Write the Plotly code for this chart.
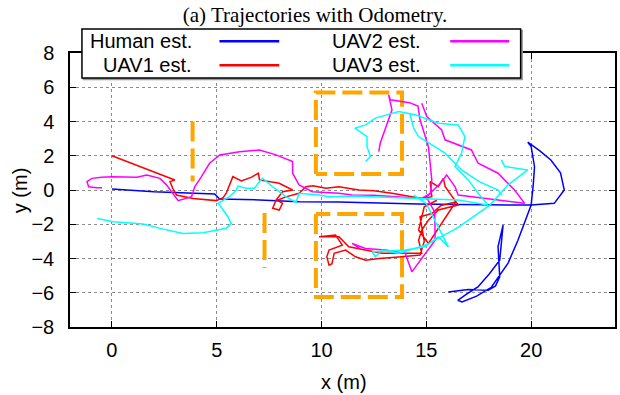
import plotly.graph_objects as go

# ---------------- data ----------------
human_x = [0, 2, 4.9, 5.14, 7.04, 8.94, 10.83, 12.5, 14.63, 16.5, 18.5, 20, 21.1, 21.58, 21.4, 20.94, 20.4,
           19.84, 20.0, 20.16, 20.1, 20.0, 19.37, 18.9, 18.1, 17.4, 16.7, 16.5, 16.9, 17.46, 18.0, 18.5,
           18.66, 18.55, 18.42, 18.5, 18.3, 17.95, 17.0, 16.05]
human_y = [0.06, -0.1, -0.23, -0.53, -0.58, -0.68, -0.7, -0.76, -0.82, -0.85, -0.87, -0.88, -0.78, 0, 1.0,
           1.75, 2.3, 2.79, 2.53, 1.36, 0.3, -0.88, -2.93, -4.27, -5.68, -6.2, -6.53, -6.44, -6.1, -5.66,
           -4.9, -4.1, -2.05, -2.7, -3.3, -5.07, -5.6, -5.85, -5.81, -5.95]

uav1_x = [0, 1.5, 2.77, 3.0, 2.77, 2.9, 3.08, 3.87, 4.98, 5.3, 5.45, 5.77, 6.17, 6.64, 6.99, 7.04, 7.98,
          8.62, 8.14, 7.83, 7.67, 7.98, 8.14, 7.9, 8.3, 8.93, 9.25, 9.6, 10.2, 10.83, 11.78, 12.5, 13.36,
          14.2, 14.78, 15.26, 15.18, 15.57, 15.81, 15.9, 16.37, 16.52, 15.57, 15.1, 14.78, 14.63, 14.78,
          14.47, 12.88, 11.3, 10.83, 9.88, 10.67, 10.99, 10.36, 10.25, 10.36, 10.5, 10.6, 11.15, 11.62,
          12.1, 12.73, 13.83, 14.7, 14.9, 14.7, 15.26, 15.7, 16.4, 15.73, 15.1, 14.63, 14.9, 15.5]
uav1_y = [2.0, 1.27, 0.68, 0.58, 0.49, 0.1, -0.29, -0.49, -0.62, -0.45, -0.2, 0.78, 0.53, 0.74, 0.98, 0.59,
          0.39, 0, -0.1, -0.59, -1.07, -1.17, -0.78, -0.6, -0.4, -0.19, 0.19, 0.25, 0.1, 0.19, 0, -0.05,
          -0.19, -0.35, -0.49, -0.39, 0.49, 0.19, 0.68, 0.2, -0.59, -0.88, -1.17, -1.76, -2.34, -2.93, -3.7,
          -3.7, -3.7, -3.32, -2.73, -2.73, -2.63, -3.22, -3.51, -3.9, -4.39, -4.3, -3.7, -3.51, -3.9, -4.1,
          -4.0, -3.9, -3.8, -3.0, -1.56, -1.37, -0.9, -0.7, -1.95, -3.12, -2.34, -0.98, -0.6]

uav2_x = [-0.47, -0.71, -1.11, -1.19, -0.95, -0.5, 0, 0.6, 1.19, 1.66, 2.29, 2.6, 2.92, 3.16, 3.8, 3.95,
          4.27, 4.66, 5.14, 6.09, 7.04, 7.83, 8.62, 8.62, 8.93, 9.56, 10.83, 11.46, 12.5, 13.68, 14.77,
          15.2, 15.26, 15.1, 14.7, 14.6, 14.2, 13.28, 13.2, 13.36, 13.04, 12.8, 12.73, None,
          14.78, 15.02, 15.73, 15.89, 17.15, 17.47, 18.42, 19.21, 19.69, 18.5, 17.63, 16.52, 16.37, 15.97,
          15.6, 15.0, 15.4, 15.42, 14.31, 13.99, 13.04, 12.1, 11.46, 11.8]
uav2_y = [0.13, 0.13, 0.19, 0.49, 0.68, 0.75, 0.78, 0.78, 0.74, 0.88, 0.68, 0.3, -0.19, -0.62, -0.39, 0.19,
          0.78, 1.56, 2.05, 2.24, 2.34, 2.05, 1.66, 0.98, 0.29, -0.1, -0.19, -0.29, -0.3, -0.39, -0.49,
          -0.2, 0.59, 2.53, 4.1, 4.9, 5.1, 5.27, 5.56, 4.68, 3.51, 2.73, 2.24, None,
          5.07, 4.29, 3.51, 2.93, 2.34, 1.56, 0.98, 0, -0.78, -0.6, -0.49, -0.29, 0.19, 0.88,
          0.3, -0.4, -1.3, -2.93, -4.78, -3.7, -3.51, -3.41, -3.12, -3.4]

uav3_x = [-0.71, -0.4, 0.08, 1.5, 2.29, 3.4, 4.35, 5.45, 5.69, 5.53, 5.38, 5.14, 5.06, 5.3, 5.61, 5.93,
          6.01, 6.4, 6.8, 7.04, 7.19, 7.67, 8.3, 8.78, 8.93, 9.88, 10.36, 11.5, 12.5, 13.5, 14.94, 16.52,
          17.94, 17.47, 17.0, 16.37, 16.68, 16.84, 16.52, 15.57, 14.47, 13.68, 12.57, 12.1, 11.59, 12.17,
          12.17, 12.33, 12.1, None,
          14.2, 14.4, 14.63, 15.89, 16.68, 17.5, 18.42, 18.6, None,
          18.58, 18.74, 19.84, 18.9, 18.03, 16.5, 15.0, 13.68, 12.88, 12.57, 12.41, 13.99, 14.94, 15.57,
          16.05, 15.57, 15.0, 14.4]
uav3_y = [-1.66, -1.75, -1.85, -1.99, -2.24, -2.54, -2.5, -2.24, -1.95, -1.56, -1.27, -0.88, -0.78, -0.59,
          -0.39, 0, 0.23, 0.1, 0.1, 0.49, 0.68, 0.19, -0.39, -0.72, -0.19, -0.29, -0.39, -0.35, -0.4, -0.45,
          -0.49, -0.59, -0.88, -0.19, 0.59, 1.37, 2.15, 3.12, 3.8, 3.9, 4.39, 4.58, 4.2, 3.8, 3.61, 3.12,
          2.53, 1.95, 1.66, None,
          4.5, 3.6, 3.12, 2.15, 1.17, 0.5, 0, -0.3, None,
          1.76, 1.37, 1.17, 0.3, -0.88, -2.2, -3.2, -3.7, -3.51, -3.9, -3.61, -3.51, -3.32, -2.73,
          -3.32, -2.15, -0.8, -0.3]

# obstacle outlines (orange dashed)
obst_x = [3.85, 3.85, None, 7.28, 7.28, None,
          9.73, 9.73, 13.84, 13.84, 9.73, None,
          9.73, 9.73, 13.84, 13.84, 9.73]
obst_y = [4.0, 0.5, None, -1.35, -4.56, None,
          0.94, 5.70, 5.70, 0.94, 0.94, None,
          -1.40, -6.25, -6.25, -1.40, -1.40]

series_names = ["Human est.", "UAV1 est.", "UAV2 est.", "UAV3 est."]
series_colors = ["#0000ff", "#ff0000", "#ff00ff", "#00ffff"]
x_ticks = [0, 5, 10, 15, 20]
y_ticks = [-8, -6, -4, -2, 0, 2, 4, 6, 8]

# ---------------- figure ----------------
W, H = 620, 395
ML, MR, MT, MB = 70, 3, 53.3, 68.3
PW, PH = W - ML - MR, H - MT - MB

def px_x(p):
    return (p - ML) / PW

def px_y(p):
    return (H - MB - p) / PH

FONT = "Liberation Sans"

fig = go.Figure()
fig.add_trace(go.Scatter(x=obst_x, y=obst_y, mode="lines",
                         line=dict(color="#ffa500", width=4, dash="20px,7px"),
                         connectgaps=False, showlegend=False, hoverinfo="skip"))

for xs, ys, nm, col in zip([human_x, uav1_x, uav2_x, uav3_x],
                           [human_y, uav1_y, uav2_y, uav3_y],
                           series_names, series_colors):
    fig.add_trace(go.Scatter(x=xs, y=ys, mode="lines", name=nm,
                             line=dict(color=col, width=1.5),
                             connectgaps=False, showlegend=False))

axis_common = dict(showline=True, linecolor="black", linewidth=1.5, mirror="ticks",
                   ticks="inside", ticklen=6, tickcolor="black", tickwidth=1,
                   showgrid=True, gridcolor="#8c8c8c", griddash="dot", gridwidth=1,
                   zeroline=False, tickfont=dict(family=FONT, size=20, color="black"))

fig.update_xaxes(range=[-2, 24], tickvals=x_ticks, ticklabelstandoff=4, **axis_common)
fig.update_yaxes(range=[-8, 8], tickvals=y_ticks, ticklabelstandoff=10, **axis_common)

shapes = []
annotations = []
# legend box
lx0, lx1 = px_x(82), px_x(522.3)
ly0, ly1 = px_y(78.3), px_y(29.3)
shapes.append(dict(type="rect", xref="paper", yref="paper",
                   x0=lx0 + 1.5 / PW, x1=lx1 + 1.5 / PW, y0=ly0 - 1.5 / PH, y1=ly1 - 1.5 / PH,
                   line=dict(color="#999999", width=1.5), fillcolor="#999999", layer="above"))
shapes.append(dict(type="rect", xref="paper", yref="paper", x0=lx0, x1=lx1, y0=ly0, y1=ly1,
                   line=dict(color="black", width=1.5), fillcolor="white", layer="above"))
rows = [px_y(41.5), px_y(65.5), px_y(41.5), px_y(65.5)]
text_right = [px_x(194), px_x(194), px_x(424), px_x(424)]
line_pos = [(px_x(220), px_x(280)), (px_x(220), px_x(280)),
            (px_x(451.6), px_x(510.9)), (px_x(451.6), px_x(510.9))]
for nm, col, ry, tr, (a, b) in zip(series_names, series_colors, rows, text_right, line_pos):
    annotations.append(dict(text=nm, xref="paper", yref="paper", x=tr, y=ry,
                            xanchor="right", yanchor="middle", showarrow=False,
                            font=dict(family=FONT, size=20, color="black")))
    shapes.append(dict(type="line", xref="paper", yref="paper", x0=a, x1=b, y0=ry, y1=ry,
                       line=dict(color=col, width=2.5), layer="above"))

# axis titles
annotations.append(dict(text="x (m)", xref="paper", yref="paper", x=px_x(345), y=px_y(382),
                        xanchor="center", yanchor="middle", showarrow=False,
                        font=dict(family=FONT, size=20, color="black")))
annotations.append(dict(text="y (m)", xref="paper", yref="paper", x=px_x(20), y=px_y(190),
                        xanchor="center", yanchor="middle", showarrow=False, textangle=-90,
                        font=dict(family=FONT, size=20, color="black")))

fig.update_layout(
    width=W, height=H,
    margin=dict(l=ML, r=MR, t=MT, b=MB),
    paper_bgcolor="white", plot_bgcolor="white",
    title=dict(text="(a) Trajectories with Odometry.", x=315 / W, xanchor="center",
               y=1 - 15 / H, yanchor="middle", xref="container", yref="container",
               font=dict(family="Liberation Serif", size=21, color="black")),
    shapes=shapes, annotations=annotations, showlegend=False,
)

fig.write_html("out.html")
